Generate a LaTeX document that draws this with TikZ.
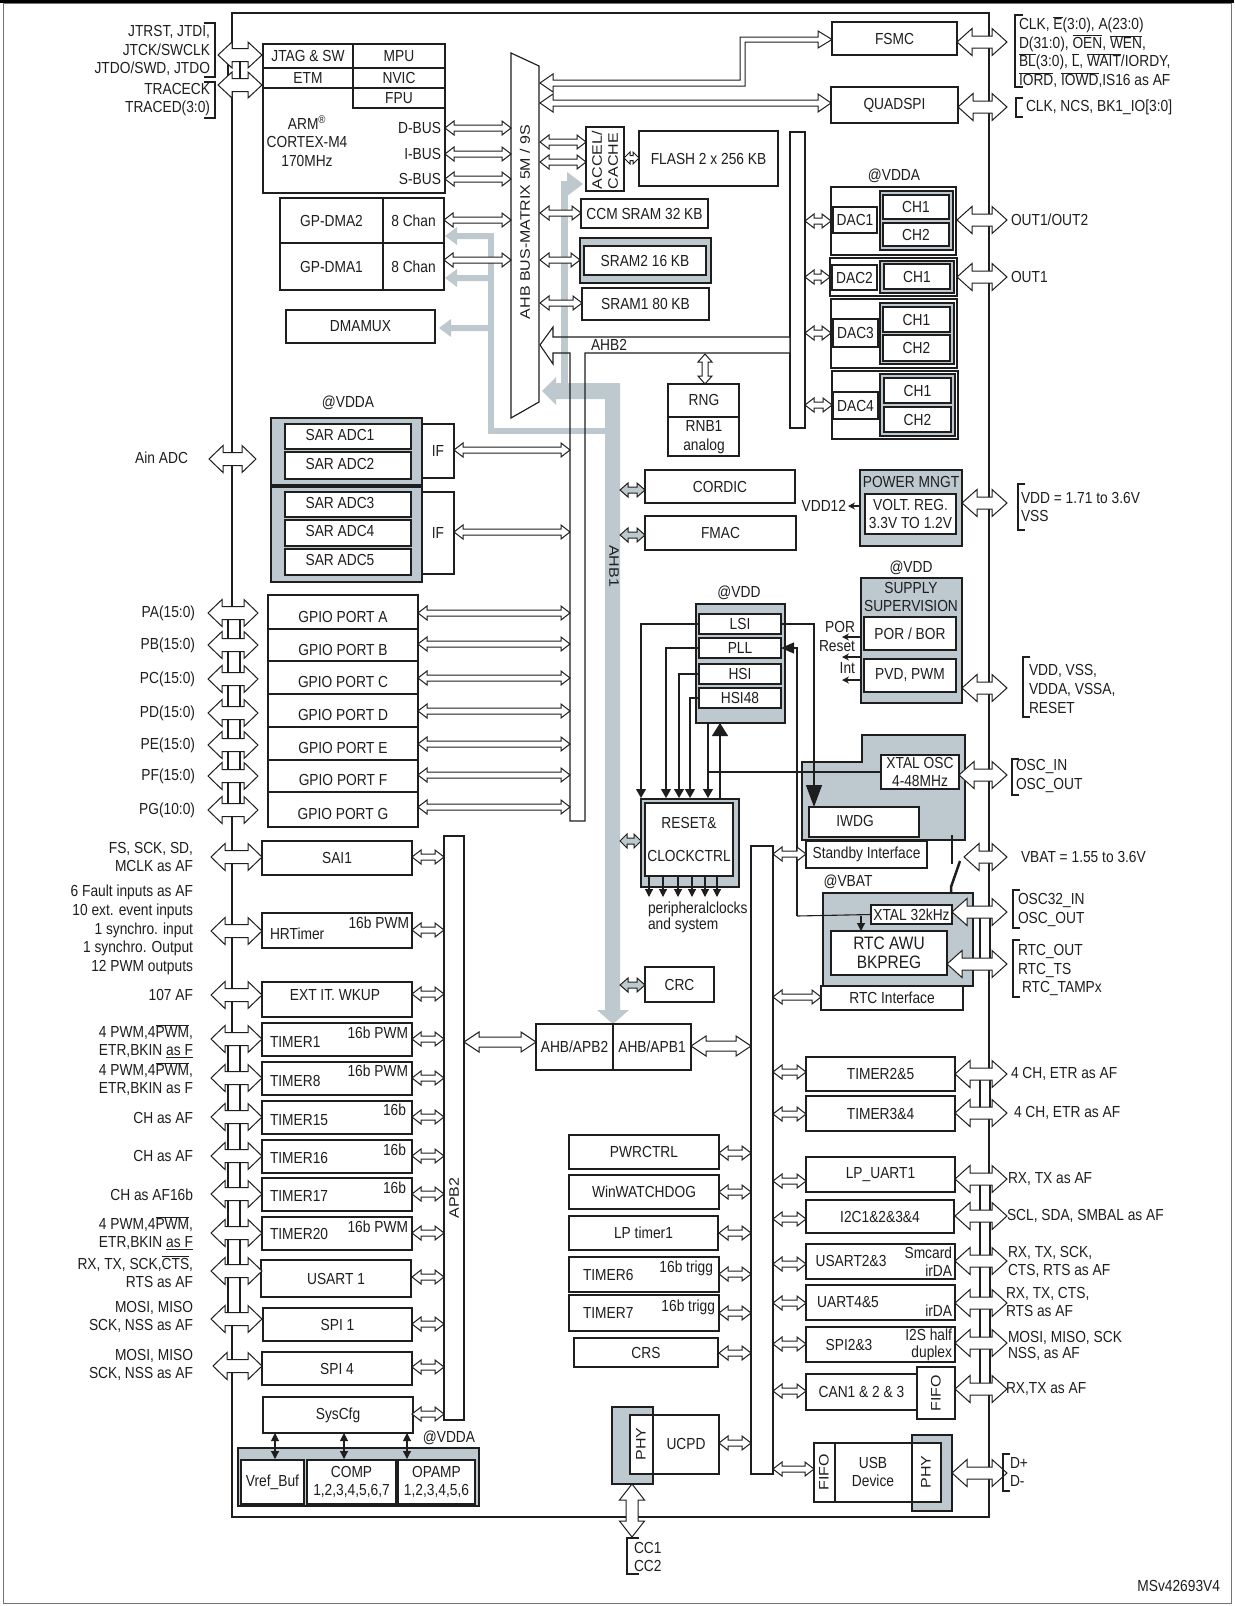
\documentclass[tikz,border=0pt]{standalone}
\usepackage{fontspec}
\setmainfont{Liberation Sans}[FakeStretch=0.86]
\newfontfamily\rotfont{Liberation Sans}[FakeStretch=1.163]
\usetikzlibrary{arrows.meta}
\definecolor{gfill}{RGB}{190,200,207}
\definecolor{ln}{RGB}{30,30,30}
\newcommand\NF{\fontsize{16}{18.6}\selectfont}
\newcommand\RF{\rotfont\fontsize{13.76}{16}\selectfont}
\newcommand\OV[1]{$\overline{\mbox{#1}}$}
\tikzset{
  box/.style={draw=ln,line width=1.15pt,fill=white},
  gbox/.style={draw=ln,line width=2pt,fill=gfill},
  wire/.style={draw=ln,line width=1.1pt},
  arr/.style={draw=ln,line width=1pt,fill=white,line join=miter},
  lab/.style={anchor=east,align=right},
  rlab/.style={anchor=west,align=left},
  tipd/.style={-{Triangle[length=9pt,width=10pt]}},
  tips/.style={-{Stealth[length=7pt,width=7pt]}},
}
\newcommand\BX[7][]{\node[box,minimum width={#5-#3},minimum height={#6-#4},#1] (#2) at ({(#3+#5)/2},{(#4+#6)/2}) {#7};}
\newcommand\HA[7][]{\draw[arr,#1] (#2,#4) -- ++(#5,#6) -- ++(0,{#7-#6}) -- ({#3-#5},{#4+#7}) -- ++(0,{#6-#7}) -- (#3,#4) -- ({#3-#5},{#4-#6}) -- ++(0,{#6-#7}) -- ({#2+#5},{#4-#7}) -- ++(0,{#7-#6}) -- cycle;}
\newcommand\VA[7][]{\draw[arr,#1] (#2,#3) -- ++(#6,#5) -- ++({#7-#6},0) -- ({#2+#7},{#4-#5}) -- ++({#6-#7},0) -- (#2,#4) -- ({#2-#6},{#4-#5}) -- ++({#6-#7},0) -- ({#2-#7},{#3+#5}) -- ++({#7-#6},0) -- cycle;}
\newcommand\SA[3]{\HA{#1}{#2}{#3}{9}{7}{3}}
\newcommand\PL[1]{\HA{208}{258}{#1}{14}{13.5}{6.5}}
\newcommand\PLB[1]{\HA{211}{262}{#1}{14}{13.5}{6.5}}
\newcommand\PR[2]{\HA{#1}{1007}{#2}{15}{13.5}{6}}
\begin{document}
\begin{tikzpicture}[x=1pt,y=-1pt,every node/.style={inner sep=0pt,outer sep=0pt,font=\NF,align=center,text=ln}]
\useasboundingbox (0,0) rectangle (1234,1606);
\fill[white] (0,0) rectangle (1234,1606);
\draw[black!55,line width=0.8pt] (3,3) rectangle (1231,1603);
\draw[black,line width=3pt] (0,1.5) -- (1234,1.5);
\BX{chip}{232}{13}{989}{1517}{}

% ---------------- CPU
\BX{cpu}{263}{44}{445}{193}{}
\draw[wire] (353,44) -- (353,108) -- (445,108);
\draw[wire] (263,68) -- (445,68);
\draw[wire] (263,88) -- (445,88);
\node (tjtag) at (308,56) {JTAG \& SW};
\node (tetm) at (308,78) {ETM};
\node (tmpu) at (399,56) {MPU};
\node (tnvic) at (399,78) {NVIC};
\node (tfpu) at (399,98) {FPU};
\node (tarm) at (307,141) {ARM\textsuperscript{\textregistered}\\CORTEX-M4\\170MHz};
\node[lab] (tdbus) at (441,128) {D-BUS};
\node[lab] (tibus) at (441,154) {I-BUS};
\node[lab] (tsbus) at (441,179) {S-BUS};

% JTAG pins
\node[lab] (ljtag) at (210,50.5) {JTRST, JTDI,\\JTCK/SWCLK\\JTDO/SWD, JTDO};
\draw[wire] (204,23) -- (215,23) -- (215,77) -- (204,77);
\node[lab] (ltrace) at (210,99.5) {TRACECK\\TRACED(3:0)};
\draw[wire] (204,82) -- (215,82) -- (215,118) -- (204,118);
\draw[box] (228,55) rectangle (240,85);
\HA{218}{262}{55}{14}{13}{6.5}
\HA{218}{262}{85}{14}{13}{6.5}

% ---------------- DMA
\BX{dma2}{280}{198}{383}{243}{GP-DMA2}
\BX{dma1}{280}{243}{383}{290}{GP-DMA1}
\BX[line width=1.8pt]{ch2}{383}{198}{444}{243}{8 Chan}
\BX[line width=1.8pt]{ch1}{383}{243}{444}{290}{8 Chan}
\BX{dmamux}{286}{310}{435}{343}{DMAMUX}

% ---------------- FSMC / QUADSPI
\BX{fsmc}{832}{22}{957}{55}{FSMC}
\BX{qspi}{831}{87}{958}{123}{QUADSPI}
\draw[wire] (1023,15) -- (1015,15) -- (1015,87) -- (1023,87);
\node[rlab] (tfsmc) at (1019,52) {CLK, \OV{E}(3:0), A(23:0)\\D(31:0), \OV{OEN}, \OV{WEN},\\\OV{BL}(3:0), \OV{L}, \OV{WAIT}/IORDY,\\\OV{IORD}, \OV{IOWD},IS16 as AF};
\draw[wire] (1023,98) -- (1016,98) -- (1016,117) -- (1023,117);
\node[rlab] (tqspi) at (1026,107) {CLK, NCS, BK1\_IO[3:0]};

% ---------------- memories
\BX{accel}{586}{127}{624}{191}{}
\node[rotate=90,font=\RF,align=left,anchor=west] (taccel) at (605,189) {ACCEL/\\CACHE};
\BX{flash}{639}{131}{778}{186}{FLASH 2 x 256 KB}
\BX{ccm}{581}{199}{708}{228}{CCM SRAM 32 KB}
\BX[gbox]{sram2o}{580}{238}{711}{283}{}
\BX{sram2}{584}{246}{706}{275}{SRAM2 16 KB}
\BX{sram1}{582}{288}{709}{320}{SRAM1 80 KB}

% ---------------- AHB2 structure (fill)
\BX{ahbbar}{790}{132}{805}{428}{}
\fill[white] (540,345) -- (553,327) -- (553,337) -- (790,337) -- (790,353) -- (585,353) -- (585,821) -- (570,821) -- (570,353) -- (553,353) -- (553,364) -- cycle;

% ---------------- gray DMA / AHB1 paths
\fill[gfill] (488,233) rectangle (494,434);
\fill[gfill] (488,428) rectangle (605,434);
\fill[gfill] (445,236) -- (457,227) -- (457,233) -- (490,233) -- (490,239) -- (457,239) -- (457,245) -- cycle;
\fill[gfill] (445,278) -- (457,269) -- (457,275) -- (490,275) -- (490,281) -- (457,281) -- (457,287) -- cycle;
\fill[gfill] (439,328) -- (451,319) -- (451,325) -- (490,325) -- (490,331) -- (451,331) -- (451,337) -- cycle;
\fill[gfill] (542,391) -- (556,377) -- (556,383) -- (620,383) -- (620,1010) -- (629,1010) -- (613,1024) -- (597,1010) -- (605,1010) -- (605,399) -- (556,399) -- (556,405) -- cycle;
\fill[gfill] (561,181) rectangle (568,392);
\fill[gfill] (567,172) -- (583,184) -- (567,196) -- cycle;
\node[rotate=-90,font=\RF] (tahb1) at (614,566) {AHB1};

% AHB2 outline
\draw[wire,line join=miter] (540,345) -- (553,327) -- (553,337) -- (790,337) -- (790,353) -- (585,353) -- (585,821) -- (570,821) -- (570,353) -- (553,353) -- (553,364) -- cycle;
\node (tahb2) at (609,345) {AHB2};

% matrix
\draw[box] (511,53) -- (539,66) -- (539,402) -- (511,418) -- cycle;
\node[rotate=90,font=\RF] (tmat) at (525,222) {AHB BUS-MATRIX 5M / 9S};

% matrix arrows
\SA{445}{511}{128} \SA{445}{511}{154} \SA{445}{511}{179}
\SA{444}{511}{220} \SA{444}{511}{260}
\draw[arr] (540,83) -- (553,74) -- (553,80) -- (740,80) -- (740,37) -- (818,37) -- (818,31) -- (832,39.5) -- (818,48) -- (818,42) -- (745,42) -- (745,86) -- (553,86) -- (553,92) -- cycle;
\HA{540}{831}{103}{13}{9}{3}
\SA{540}{586}{142} \SA{540}{586}{162}
\HA{624}{639}{158}{6}{6}{2.5}
\SA{540}{581}{213} \SA{540}{580}{260} \SA{540}{582}{303}
\PR{957}{42} \PR{958}{107}

% RNG
\VA{705}{354}{384}{8}{7}{3}
\BX{rng}{668}{384}{739}{456}{}
\draw[wire] (668,417) -- (739,417);
\node (trng) at (704,400) {RNG};
\node (trnb) at (704,437) {RNB1\\analog};

% ---------------- DACs
\node (tvdda1) at (894,176) {@VDDA};
\BX{dac1o}{831}{187}{956}{255}{}
\BX{dac1}{833}{207}{877}{233}{DAC1}
\BX[gbox]{dac1c}{880}{191}{953}{250}{}
\BX{dac1a}{883}{195}{949}{219}{CH1}
\BX{dac1b}{883}{223}{949}{246}{CH2}
\BX{dac2o}{830}{258}{957}{296}{}
\BX{dac2}{832}{265}{877}{290}{DAC2}
\BX[gbox]{dac2c}{880}{261}{954}{293}{}
\BX{dac2a}{884}{264}{950}{289}{CH1}
\BX{dac3o}{831}{299}{957}{368}{}
\BX{dac3}{833}{319}{878}{347}{DAC3}
\BX[gbox]{dac3c}{880}{303}{954}{364}{}
\BX{dac3a}{883}{307}{950}{332}{CH1}
\BX{dac3b}{883}{335}{950}{361}{CH2}
\BX{dac4o}{832}{371}{958}{439}{}
\BX{dac4}{833}{392}{878}{419}{DAC4}
\BX[gbox]{dac4c}{880}{374}{955}{436}{}
\BX{dac4a}{884}{378}{951}{403}{CH1}
\BX{dac4b}{884}{407}{951}{432}{CH2}
\SA{805}{831}{221} \SA{805}{830}{277} \SA{805}{831}{333} \SA{805}{832}{405}
\PR{957}{220} \node[rlab] (tout12) at (1011,220) {OUT1/OUT2};
\PR{957}{277} \node[rlab] (tout1) at (1011,277) {OUT1};

% ---------------- ADC
\node (tvdda2) at (348,403) {@VDDA};
\node[lab] (tain) at (188,458) {Ain ADC};
\HA{209}{256}{459}{14}{13.5}{6.5}
\BX[gbox]{adcg1}{271}{418}{422}{485}{}
\BX[gbox]{adcg2}{271}{487}{422}{582}{}
\BX{adc1}{285}{424}{411}{449}{} \node (tadc1) at (340,435) {SAR ADC1};
\BX{adc2}{285}{452}{411}{479}{} \node (tadc2) at (340,464) {SAR ADC2};
\BX{adc3}{285}{492}{411}{517}{} \node (tadc3) at (340,503) {SAR ADC3};
\BX{adc4}{285}{520}{411}{546}{} \node (tadc4) at (340,531) {SAR ADC4};
\BX{adc5}{285}{549}{411}{575}{} \node (tadc5) at (340,560) {SAR ADC5};
\BX{if1}{422}{424}{454}{478}{IF}
\BX{if2}{422}{492}{454}{574}{IF}
\HA{454}{570}{450}{9}{7}{3}
\HA{454}{570}{532}{9}{7}{3}

% ---------------- GPIO
\BX{gpa}{268}{595}{418}{629}{} \node (tgpa) at (343,617) {GPIO PORT A};
\BX{gpb}{268}{629}{418}{661}{} \node (tgpb) at (343,650) {GPIO PORT B};
\BX{gpc}{268}{661}{418}{694}{} \node (tgpc) at (343,682) {GPIO PORT C};
\BX{gpd}{268}{694}{418}{727}{} \node (tgpd) at (343,715) {GPIO PORT D};
\BX{gpe}{268}{727}{418}{760}{} \node (tgpe) at (343,748) {GPIO PORT E};
\BX{gpf}{268}{760}{418}{792}{} \node (tgpf) at (343,780) {GPIO PORT F};
\BX{gpg}{268}{792}{418}{827}{} \node (tgpg) at (343,814) {GPIO PORT G};
\draw[box] (228,613) rectangle (240,810);
\node[lab] (lpa) at (195,613) {PA(15:0)}; \PL{613}
\node[lab] (lpb) at (195,645) {PB(15:0)}; \PL{645}
\node[lab] (lpc) at (195,679) {PC(15:0)}; \PL{679}
\node[lab] (lpd) at (195,713) {PD(15:0)}; \PL{713}
\node[lab] (lpe) at (195,745) {PE(15:0)}; \PL{745}
\node[lab] (lpf) at (195,776) {PF(15:0)}; \PL{776}
\node[lab] (lpg) at (195,810) {PG(10:0)}; \PL{810}
\foreach \yy in {613,644,678,711,744,775,807} {\HA{418}{570}{\yy}{9}{7}{3}}

% ---------------- left APB2 peripherals
\BX{apb2}{444}{836}{464}{1420}{}
\node[rotate=90,font=\RF] (tapb2) at (454,1198) {APB2};
\BX{sai}{262}{841}{412}{875}{SAI1}
\BX{hrt}{262}{913}{412}{948}{}
\node[anchor=west] (thrt) at (270,934) {HRTimer}; \node[anchor=east] (thrtb) at (409,923) {16b PWM};
\BX{ext}{262}{982}{412}{1017}{} \node (text) at (335,995) {EXT IT. WKUP};
\BX{t1}{262}{1023}{412}{1056}{}
\node[anchor=west] (tt1) at (270,1042) {TIMER1}; \node[anchor=east] (tt1b) at (408,1033) {16b PWM};
\BX{t8}{262}{1062}{412}{1095}{}
\node[anchor=west] (tt8) at (270,1081) {TIMER8}; \node[anchor=east] (tt8b) at (408,1071) {16b PWM};
\BX{t15}{262}{1101}{412}{1134}{}
\node[anchor=west] (tt15) at (270,1120) {TIMER15}; \node[anchor=east] (tt15b) at (406,1110) {16b};
\BX{t16}{262}{1140}{412}{1173}{}
\node[anchor=west] (tt16) at (270,1158) {TIMER16}; \node[anchor=east] (tt16b) at (406,1150) {16b};
\BX{t17}{262}{1178}{412}{1211}{}
\node[anchor=west] (tt17) at (270,1196) {TIMER17}; \node[anchor=east] (tt17b) at (406,1188) {16b};
\BX{t20}{262}{1217}{412}{1250}{}
\node[anchor=west] (tt20) at (270,1234) {TIMER20}; \node[anchor=east] (tt20b) at (408,1227) {16b PWM};
\BX{us1}{261}{1260}{411}{1297}{USART 1}
\BX{spi1}{263}{1308}{412}{1341}{SPI 1}
\BX{spi4}{262}{1352}{412}{1385}{SPI 4}
\BX{sys}{263}{1397}{413}{1433}{SysCfg}
\foreach \yy in {857,930,994,1039,1078,1117,1156,1194,1233,1277,1324,1367,1414} {\SA{412}{444}{\yy}}

\node[lab] (lsai) at (193,857) {FS, SCK, SD,\\MCLK as AF};
\node[lab] (lhrt) at (193,930) {6 Fault inputs as AF\\10 ext. event inputs\\1 synchro. input\\1 synchro. Output\\12 PWM outputs};
\node[lab] (lext) at (193,995) {107 AF};
\node[lab] (lt1) at (193,1041) {4 PWM,4\OV{PWM},\\ETR,BKIN \underline{as F}};
\node[lab] (lt8) at (193,1079) {4 PWM,4\OV{PWM},\\ETR,BKIN as F};
\node[lab] (lt15) at (193,1118) {CH as AF};
\node[lab] (lt16) at (193,1156) {CH as AF};
\node[lab] (lt17) at (193,1195) {CH as AF16b};
\node[lab] (lt20) at (193,1233) {4 PWM,4\OV{PWM},\\ETR,BKIN \underline{as F}};
\node[lab] (lus1) at (193,1272) {RX, TX, SCK,\OV{CTS},\\RTS as AF};
\node[lab] (lspi1) at (193,1317) {MOSI, MISO\\SCK, NSS as AF};
\node[lab] (lspi4) at (193,1365) {MOSI, MISO\\SCK, NSS as AF};
\draw[box] (228,1039) rectangle (240,1319);
\foreach \yy in {857,931,995} {\PLB{\yy}}
\foreach \yy in {1039,1078,1117,1156,1194,1233,1271,1319} {\PLB{\yy}}
\HA{213}{262}{1366}{14}{13.5}{6.5}

% analog
\node (tvdda3) at (449,1438) {@VDDA};
\BX[gbox]{ana}{238}{1448}{479}{1506}{}
\BX{vref}{241}{1460}{304}{1504}{Vref\_Buf}
\BX{comp}{307}{1460}{396}{1504}{COMP\\1,2,3,4,5,6,7}
\BX{opamp}{398}{1460}{475}{1504}{OPAMP\\1,2,3,4,5,6}
\foreach \xx in {275,344,407} {\draw[wire,{Triangle[length=8pt,width=8pt]}-{Triangle[length=8pt,width=8pt]}] (\xx,1433) -- (\xx,1459);}

% ---------------- AHB1 peripherals
\BX{cordic}{645}{470}{795}{503}{CORDIC}
\BX{fmac}{645}{516}{796}{550}{FMAC}
\HA[fill=gfill]{620}{645}{490}{8}{7}{3}
\HA[fill=gfill]{620}{645}{535}{8}{7}{3}
\HA[fill=gfill]{620}{641}{841}{7}{7}{3}
\HA[fill=gfill]{620}{645}{985}{8}{7}{3}
\BX{crc}{645}{967}{714}{1002}{CRC}

% ---------------- power
\node[anchor=east] (tvdd12) at (846,506) {VDD12};
\draw[wire,tips] (860,506) -- (848,506);
\BX[gbox]{pwr}{860}{470}{962}{546}{}
\node (tpwr) at (911,482) {POWER MNGT};
\BX{vreg}{865}{494}{956}{534}{VOLT. REG.\\3.3V TO 1.2V}
\PR{962}{503}
\draw[wire] (1025,484) -- (1018,484) -- (1018,530) -- (1025,530);
\node[rlab] (tvdd) at (1021,507) {VDD = 1.71 to 3.6V\\VSS};

\node (tvddb) at (911,568) {@VDD};
\BX[gbox]{sup}{861}{578}{962}{703}{}
\node (tsup) at (911,597) {SUPPLY\\SUPERVISION};
\BX{por}{864}{617}{956}{650}{POR / BOR}
\BX{pvd}{864}{659}{956}{692}{PVD, PWM}
\node[anchor=east] (tpor) at (855,627) {POR};
\node[anchor=east] (trst) at (855,646) {Reset};
\node[anchor=east] (tint) at (855,668) {Int};
\draw[wire,tips] (861,637) -- (842,637);
\draw[wire,tips] (861,657) -- (842,657);
\draw[wire,tips] (861,680) -- (842,680);
\PR{962}{688}
\draw[wire] (1030,657) -- (1023,657) -- (1023,717) -- (1030,717);
\node[rlab] (tvdd2) at (1029,689) {VDD, VSS,\\VDDA, VSSA,\\RESET};

% ---------------- clocks
\node (tvddc) at (739,593) {@VDD};
\BX[gbox]{clk}{696}{604}{785}{723}{}
\BX{lsi}{699}{614}{781}{634}{LSI}
\BX{pll}{699}{638}{781}{658}{PLL}
\BX{hsi}{699}{664}{781}{684}{HSI}
\BX{hsi48}{699}{688}{781}{708}{HSI48}
\draw[gbox] (802,762) -- (862,762) -- (862,735) -- (965,735) -- (965,840) -- (802,840) -- cycle;
\BX{xosc}{881}{755}{959}{789}{XTAL OSC\\4-48MHz}
\BX{iwdg}{809}{807}{919}{837}{} \node (tiwdg) at (855,821) {IWDG};
\BX{stby}{806}{841}{927}{868}{Standby Interface}
\draw[wire,tipd] (lsi.west) -- (641,624) -- (641,798);
\draw[wire,tipd] (pll.west) -- (666,648) -- (666,798);
\draw[wire,tipd] (hsi.west) -- (679,674) -- (679,798);
\draw[wire,tipd] (hsi48.west) -- (690,698) -- (690,798);
\draw[wire,tipd] (708,723) -- (708,798);
\draw[wire,-{Triangle[length=13pt,width=16pt]}] (720,799) -- (720,723);
\draw[wire] (708,772) -- (xosc.west);
\draw[wire,-{Triangle[length=22pt,width=16pt]}] (lsi.east) -- (814,624) -- (814,807);
\draw[wire,-{Triangle[length=13pt,width=11pt]}] (797,916) -- (797,648) -- (pll.east);
\SA{773}{806}{854}
\draw[ln,line width=2.5pt] (952,835) -- (952,864);
\draw[ln,line width=2.5pt] (960,861) -- (951,887) -- (951,893);
\PR{964}{857} \node[rlab] (tvbat) at (1021,857) {VBAT = 1.55 to 3.6V};
\PR{959}{775}
\draw[wire] (1019,759) -- (1012,759) -- (1012,795) -- (1019,795);
\node[rlab] (tosc) at (1016,776) {OSC\_IN\\OSC\_OUT};

% RESET
\BX[gbox]{rstg}{641}{799}{739}{887}{}
\BX{rst}{645}{803}{733}{876}{RESET\&\\[14pt]CLOCKCTRL}
\foreach \xx in {649,663,678,692,705,717} {\draw[wire,-{Triangle[length=8pt,width=8pt]}] (\xx,876) -- (\xx,897);}
\node[rlab,font=\fontsize{16}{16}\selectfont] (tperi) at (648,917) {peripheralclocks\\and system};

% ---------------- RTC
\node (tvbat2) at (848,882) {@VBAT};
\BX{rtcif}{821}{986}{963}{1010}{RTC Interface}
\BX[gbox]{rtcg}{823}{893}{973}{986}{}
\BX{x32}{871}{905}{952}{924}{XTAL 32kHz}
\BX[font=\fontsize{18}{19}\selectfont]{rtc}{831}{931}{947}{975}{RTC AWU\\BKPREG}
\draw[wire] (797,916) -- (x32.west);
\draw[wire,-{Triangle[length=8pt,width=8pt]}] (861,916) -- (861,931);
\draw[box] (980,912) rectangle (990,964);
\PR{952}{912}
\PR{947}{964}
\draw[wire] (1020,890) -- (1013,890) -- (1013,928) -- (1020,928);
\node[rlab] (tosc32) at (1018,910) {OSC32\_IN\\OSC\_OUT};
\draw[wire] (1020,940) -- (1013,940) -- (1013,997) -- (1020,997);
\node[rlab] (trtc) at (1018,970) {RTC\_OUT\\RTC\_TS\\\hspace{4pt}RTC\_TAMPx};
\SA{773}{821}{997}

% ---------------- bridge / APB1
\BX{apb1}{751}{846}{773}{1474}{}
\BX{apb2br}{536}{1024}{613}{1070}{AHB/APB2}
\BX{apb1br}{613}{1024}{691}{1070}{AHB/APB1}
\HA{464}{536}{1042}{15}{10}{5}
\HA{691}{751}{1046}{15}{10}{5}

\BX{pwrc}{569}{1135}{719}{1169}{PWRCTRL}
\BX{wwdg}{569}{1175}{719}{1209}{WinWATCHDOG}
\BX{lpt}{569}{1216}{718}{1250}{LP timer1}
\BX{t6}{569}{1257}{719}{1292}{}
\node[anchor=west] (tt6) at (583,1275) {TIMER6}; \node[anchor=east] (tt6b) at (713,1268) {16b trigg};
\BX{t7}{569}{1295}{719}{1331}{}
\node[anchor=west] (tt7) at (583,1313) {TIMER7}; \node[anchor=east] (tt7b) at (715,1307) {16b trigg};
\BX{crs}{574}{1338}{718}{1367}{CRS}
\foreach \yy in {1153,1192,1233,1274,1313,1353,1443} {\SA{719}{751}{\yy}}

% UCPD
\BX[gbox]{ucpdg}{612}{1407}{653}{1484}{}
\BX{ucpd}{630}{1415}{719}{1474}{}
\draw[wire] (653,1415) -- (653,1474);
\node[rotate=90,font=\RF] (tphy1) at (641,1444) {PHY};
\node (tucpd) at (686,1444) {UCPD};
\VA{632}{1484}{1537}{16}{12.5}{6}
\draw[wire] (639,1538) -- (627,1538) -- (627,1574) -- (639,1574);
\node[rlab] (tcc) at (634,1557) {CC1\\CC2};

% ---------------- right APB1 peripherals
\BX{t25}{806}{1057}{955}{1091}{TIMER2\&5}
\BX{t34}{806}{1096}{955}{1131}{TIMER3\&4}
\BX{lpu}{806}{1157}{955}{1192}{LP\_UART1}
\BX{i2c}{806}{1200}{954}{1233}{I2C1\&2\&3\&4}
\BX{us23}{806}{1244}{955}{1279}{}
\node (tus23) at (851,1261) {USART2\&3};
\node[anchor=east] (tus23a) at (952,1253) {Smcard};
\node[anchor=east] (tus23b) at (952,1271) {irDA};
\BX{u45}{806}{1285}{955}{1320}{}
\node (tu45) at (848,1302) {UART4\&5};
\node[anchor=east] (tu45b) at (952,1311) {irDA};
\BX{s23}{806}{1327}{955}{1362}{}
\node (ts23) at (849,1345) {SPI2\&3};
\node[anchor=east] (ts23a) at (952,1335) {I2S half};
\node[anchor=east] (ts23b) at (952,1353) {duplex};
\BX{can}{806}{1374}{917}{1410}{CAN1 \& 2 \& 3}
\BX{fifo1}{917}{1367}{955}{1419}{}
\node[rotate=90,font=\RF] (tfifo1) at (936,1393) {FIFO};
\BX[gbox]{phyg}{912}{1435}{952}{1511}{}
\BX{usb}{814}{1443}{941}{1502}{}
\draw[wire] (835,1443) -- (835,1502);
\draw[wire] (912,1443) -- (912,1502);
\node[rotate=90,font=\RF] (tfifo2) at (824,1472) {FIFO};
\node (tusb) at (873,1472) {USB\\Device};
\node[rotate=90,font=\RF] (tphy2) at (926,1472) {PHY};
\foreach \yy in {1072,1114,1181,1219,1264,1303,1344,1391} {\SA{773}{806}{\yy}}
\SA{773}{814}{1469}
\draw[box] (980,1074) rectangle (990,1113);
\draw[box] (980,1179) rectangle (990,1389);
\foreach \yy in {1074,1113,1179,1216,1261,1303,1343,1389} {\PR{955}{\yy}}
\PR{952}{1473}
\node[rlab] (r1) at (1011,1074) {4 CH, ETR as AF};
\node[rlab] (r2) at (1014,1113) {4 CH, ETR as AF};
\node[rlab] (r3) at (1008,1179) {RX, TX as AF};
\node[rlab] (r4) at (1007,1216) {SCL, SDA, SMBAL as AF};
\node[rlab] (r5) at (1008,1262) {RX, TX, SCK,\\CTS, RTS as AF};
\node[rlab] (r6) at (1006,1302) {RX, TX, CTS,\\RTS as AF};
\node[rlab,font=\fontsize{16}{16.5}\selectfont] (r7) at (1008,1346) {MOSI, MISO, SCK\\NSS, as AF};
\node[rlab] (r8) at (1006,1389) {RX,TX as AF};
\draw[wire] (1010,1454) -- (1003,1454) -- (1003,1491) -- (1010,1491);
\node[rlab] (rd) at (1010,1472) {D+\\D-};
\node[anchor=east] (tms) at (1220,1586) {MSv42693V4};
\end{tikzpicture}
\end{document}
